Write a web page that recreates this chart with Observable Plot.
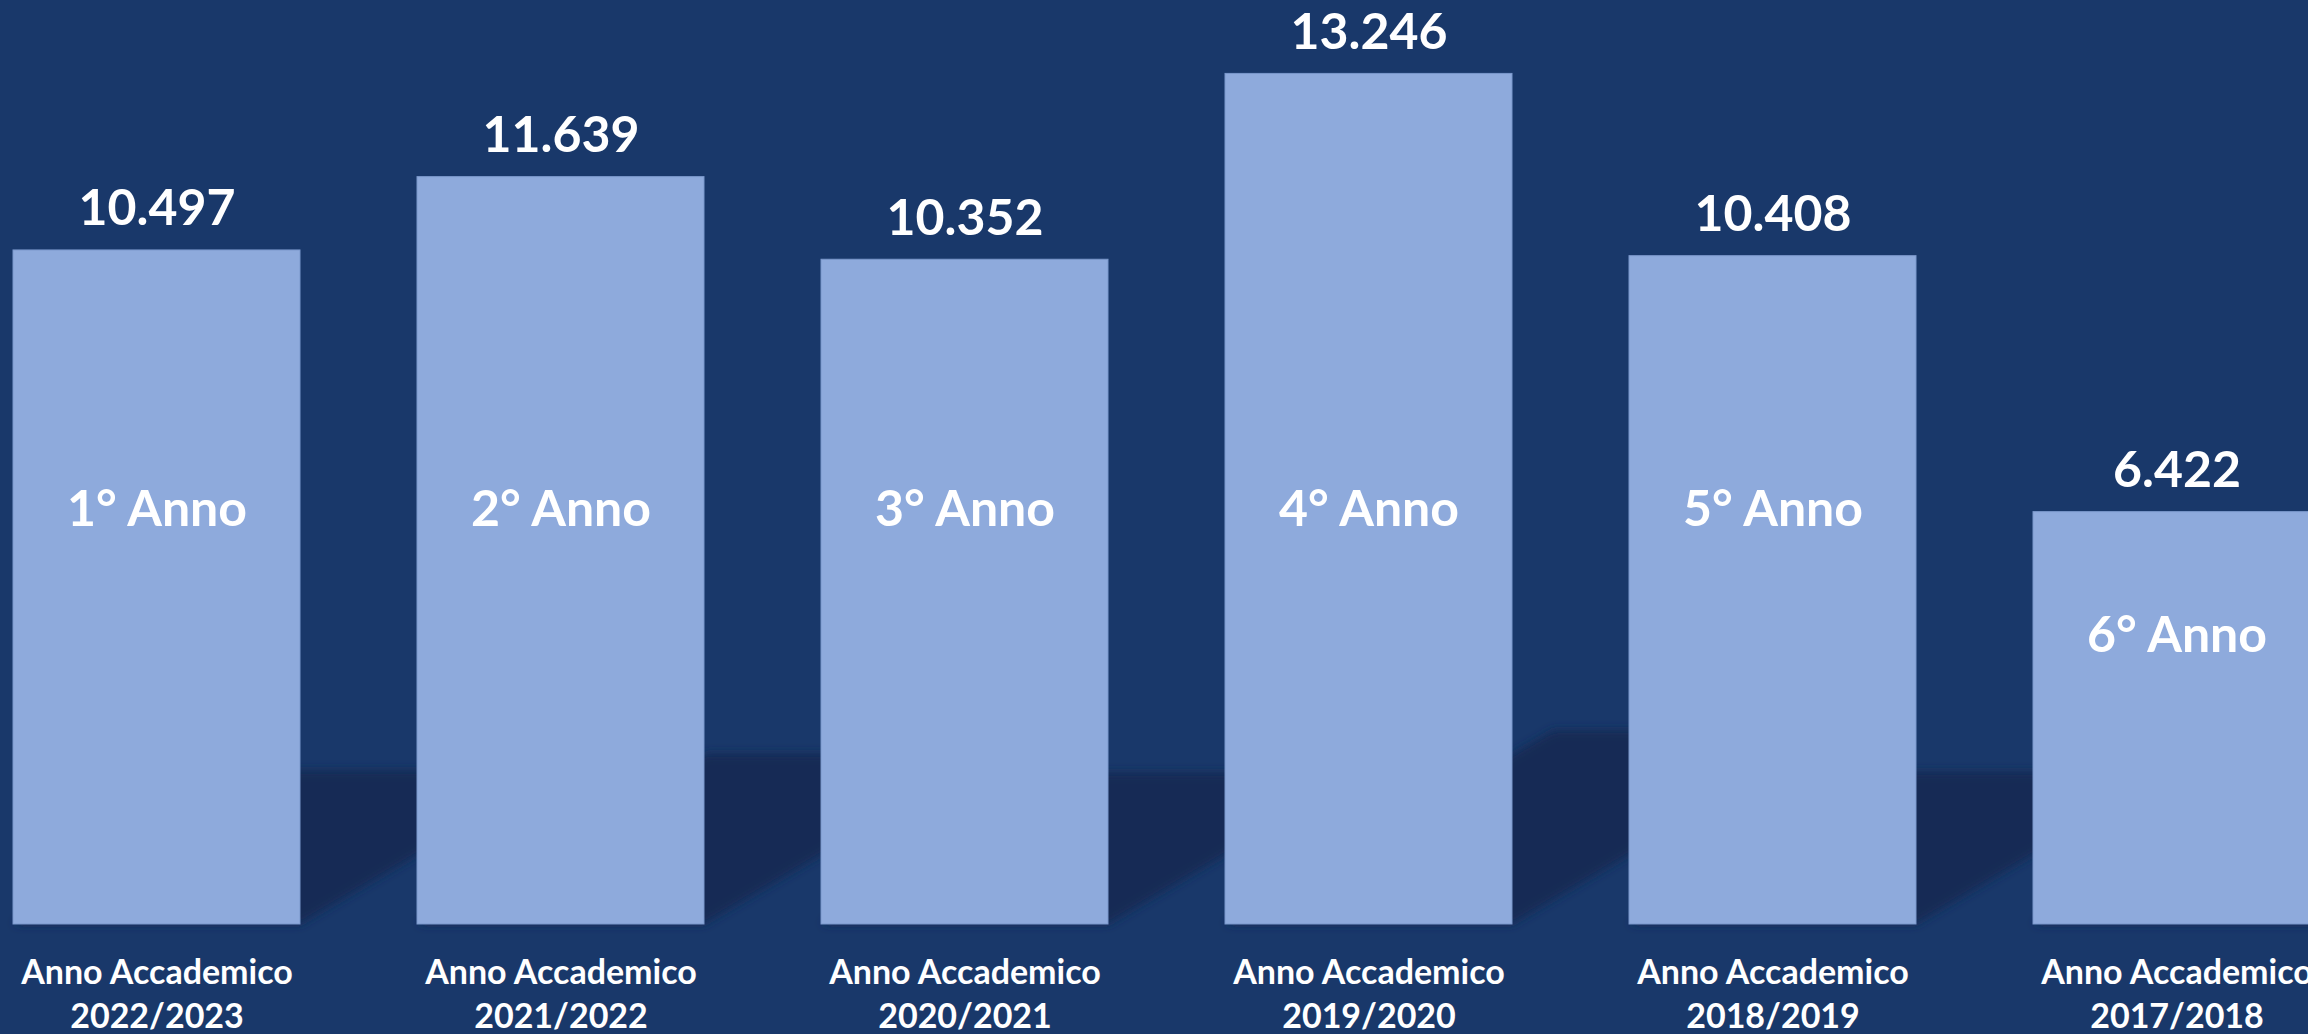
<!DOCTYPE html>
<html>
<head>
<meta charset="utf-8">
<script src="https://cdn.jsdelivr.net/npm/d3@7"></script>
<script src="https://cdn.jsdelivr.net/npm/@observablehq/plot@0.6"></script>
<style>
  html, body { margin: 0; padding: 0; background: #19386a; overflow: hidden; }
  #chart { width: 2330px; }
</style>
</head>
<body>
<div id="chart"></div>
<script>
// Data
const years = ["2022/2023", "2021/2022", "2020/2021", "2019/2020", "2018/2019", "2017/2018"];
const anni = ["1° Anno", "2° Anno", "3° Anno", "4° Anno", "5° Anno", "6° Anno"];
const iscritti = [10497, 11639, 10352, 13246, 10408, 6422];
const axisPrefix = "Anno Accademico";

const data = years.map((y, i) => ({year: y, anno: anni[i], value: iscritti[i]}));

const itLocale = d3.formatLocale({decimal: ",", thousands: ".", grouping: [3], currency: ["", " €"]});
const fmt = itLocale.format(",d");

const chart = Plot.plot({
  width: 2330,
  height: 1034,
  marginLeft: 11,
  marginRight: 8,
  marginTop: 25,
  marginBottom: 110,
  style: {background: "#19386a", fontFamily: "Lato, 'Open Sans', sans-serif", color: "white"},
  x: {domain: years, paddingInner: 0.289, paddingOuter: 0, align: 0.5},
  y: {domain: [0, 14000], axis: null},
  marks: [
    // shadow layer (first bar mark; reshaped below into a perspective shadow)
    Plot.barY(data, {x: "year", y: "value", fill: "#132b54"}),
    Plot.barY(data, {x: "year", y: "value", fill: "#8eaadc", stroke: "#7b98cc", strokeWidth: 1}),
    Plot.text(data, {x: "year", y: "value", text: d => fmt(d.value), lineAnchor: "bottom", dy: -25,
      fill: "white", fontSize: 50, fontWeight: 700}),
    Plot.text(data, {x: "year", y: d => Math.min(6450, d.value * 0.7), text: "anno",
      fill: "white", fontSize: 50, fontWeight: 700}),
    Plot.axisX({tickSize: 0, tickPadding: 28, fontSize: 34, fontWeight: 700, lineHeight: 1.3,
      tickFormat: d => axisPrefix + "\n" + d, label: null})
  ]
});

document.getElementById("chart").appendChild(chart);

// Perspective shadow behind each bar (derived from the bar geometry produced by the scales)
const svg = d3.select(chart);
svg.insert("defs", ":first-child").html(
  '<filter id="shadowBlur" x="-20%" y="-20%" width="140%" height="140%"><feGaussianBlur stdDeviation="5"/></filter>'
);
const barGroups = svg.selectAll('g[aria-label="bar"]').nodes();
const g = d3.select(barGroups[0]);
g.attr("filter", "url(#shadowBlur)");
g.selectAll("rect").each(function () {
  const r = d3.select(this);
  const x = +r.attr("x"), y = +r.attr("y"), w = +r.attr("width"), h = +r.attr("height");
  const base = y + h;
  const sh = 0.228 * h;
  const shift = sh / 0.59;
  d3.select(this.parentNode).append("path")
    .attr("d", `M${x},${base}L${x + w},${base}L${x + w + shift},${base - sh}L${x + shift},${base - sh}Z`)
    .attr("fill", "#132b54");
  r.remove();
});
</script>
</body>
</html>
